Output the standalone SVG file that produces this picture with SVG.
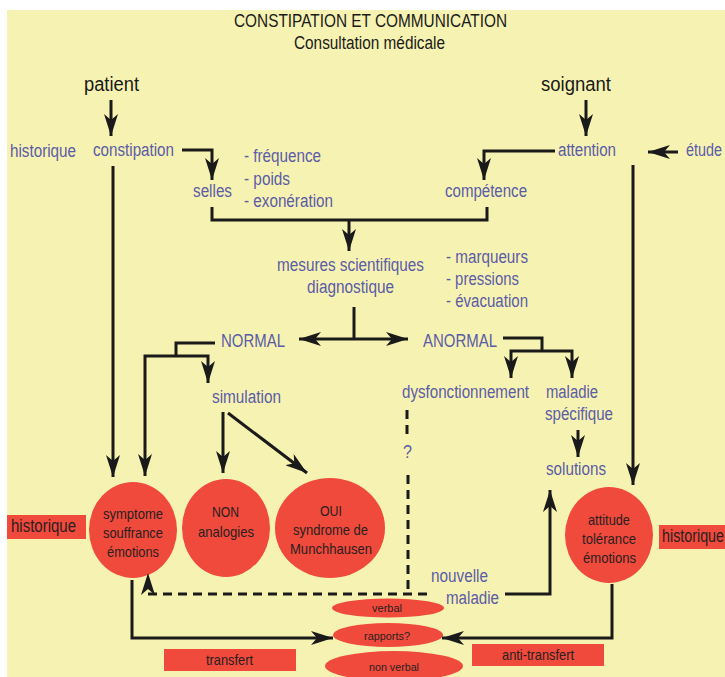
<svg xmlns="http://www.w3.org/2000/svg" width="725" height="677" viewBox="0 0 725 677">
<defs>
<style>
text{font-family:"Liberation Sans",Arial,sans-serif;}
.b{fill:#5b5ca8;font-size:18px;}
.k{fill:#1a1a1a;font-size:18px;}
.d{fill:#2a1f1f;font-size:15px;}
.s{fill:#2a1f1f;font-size:11.5px;}
.red{fill:#ef4a3c;}
.ln{fill:none;stroke:#1a1a1a;stroke-width:3;}
.ar{marker-end:url(#ah);}
.dash{fill:none;stroke:#1a1a1a;stroke-width:3;stroke-dasharray:9 6;}
</style>
<marker id="ah" markerUnits="userSpaceOnUse" markerWidth="22" markerHeight="14" refX="22" refY="7" orient="auto" viewBox="0 0 22 14"><path d="M0,0 L22,7 L0,14 L6,7 z" fill="#1a1a1a"/></marker>
</defs>
<rect x="0" y="0" width="725" height="677" fill="#ffffff"/>
<rect x="7" y="10" width="718" height="667" fill="#f6f2b1"/>

<g id="title">
<text class="k" x="234" y="27" textLength="273" lengthAdjust="spacingAndGlyphs">CONSTIPATION ET COMMUNICATION</text>
<text class="k" x="294" y="49" textLength="151" lengthAdjust="spacingAndGlyphs">Consultation médicale</text>
</g>
<g id="patient"><text class="k" x="84" y="91" style="font-size:20px" textLength="55" lengthAdjust="spacingAndGlyphs">patient</text></g>
<g id="soignant"><text class="k" x="541" y="91" style="font-size:20px" textLength="70" lengthAdjust="spacingAndGlyphs">soignant</text></g>

<g id="historique-top"><text class="b" x="10" y="157" textLength="66" lengthAdjust="spacingAndGlyphs">historique</text></g>
<g id="constipation"><text class="b" x="93" y="156" textLength="81" lengthAdjust="spacingAndGlyphs">constipation</text></g>
<g id="selles"><text class="b" x="193" y="197" textLength="39" lengthAdjust="spacingAndGlyphs">selles</text></g>
<g id="selles-liste">
<text class="b" x="244" y="162" textLength="77" lengthAdjust="spacingAndGlyphs">- fréquence</text>
<text class="b" x="244" y="185" textLength="46" lengthAdjust="spacingAndGlyphs">- poids</text>
<text class="b" x="244" y="207" textLength="89" lengthAdjust="spacingAndGlyphs">- exonération</text>
</g>
<g id="attention"><text class="b" x="558" y="156" textLength="58" lengthAdjust="spacingAndGlyphs">attention</text></g>
<g id="competence"><text class="b" x="445" y="197" textLength="82" lengthAdjust="spacingAndGlyphs">compétence</text></g>
<g id="etude"><text class="b" x="686" y="156" textLength="36" lengthAdjust="spacingAndGlyphs">étude</text></g>
<g id="mesures">
<text class="b" x="277" y="271" textLength="147" lengthAdjust="spacingAndGlyphs">mesures scientifiques</text>
<text class="b" x="307" y="293" textLength="87" lengthAdjust="spacingAndGlyphs">diagnostique</text>
</g>
<g id="mesures-liste">
<text class="b" x="446" y="263" textLength="82" lengthAdjust="spacingAndGlyphs">- marqueurs</text>
<text class="b" x="446" y="285" textLength="73" lengthAdjust="spacingAndGlyphs">- pressions</text>
<text class="b" x="446" y="307" textLength="82" lengthAdjust="spacingAndGlyphs">- évacuation</text>
</g>
<g id="normal"><text class="b" x="221" y="347" textLength="64" lengthAdjust="spacingAndGlyphs">NORMAL</text></g>
<g id="anormal"><text class="b" x="423" y="347" textLength="74" lengthAdjust="spacingAndGlyphs">ANORMAL</text></g>
<g id="simulation"><text class="b" x="212" y="403" textLength="69" lengthAdjust="spacingAndGlyphs">simulation</text></g>
<g id="dysfonctionnement"><text class="b" x="402" y="398" textLength="127" lengthAdjust="spacingAndGlyphs">dysfonctionnement</text></g>
<g id="maladie-specifique">
<text class="b" x="546" y="398" textLength="52" lengthAdjust="spacingAndGlyphs">maladie</text>
<text class="b" x="545" y="420" textLength="68" lengthAdjust="spacingAndGlyphs">spécifique</text>
</g>
<g id="question"><text class="b" x="403" y="458" textLength="9" lengthAdjust="spacingAndGlyphs">?</text></g>
<g id="solutions"><text class="b" x="546" y="475" textLength="60" lengthAdjust="spacingAndGlyphs">solutions</text></g>
<g id="nouvelle-maladie">
<text class="b" x="431" y="582" textLength="57" lengthAdjust="spacingAndGlyphs">nouvelle</text>
<text class="b" x="446" y="604" textLength="53" lengthAdjust="spacingAndGlyphs">maladie</text>
</g>

<g id="symptome">
<ellipse class="red" cx="133" cy="530" rx="44" ry="48"/>
<text class="d" x="103" y="519" textLength="60" lengthAdjust="spacingAndGlyphs">symptome</text>
<text class="d" x="103" y="538" textLength="60" lengthAdjust="spacingAndGlyphs">souffrance</text>
<text class="d" x="107" y="557" textLength="52" lengthAdjust="spacingAndGlyphs">émotions</text>
</g>
<g id="non">
<ellipse class="red" cx="226" cy="528" rx="44" ry="49"/>
<text class="d" x="212" y="517" textLength="27" lengthAdjust="spacingAndGlyphs">NON</text>
<text class="d" x="198" y="537" textLength="56" lengthAdjust="spacingAndGlyphs">analogies</text>
</g>
<g id="oui">
<ellipse class="red" cx="330" cy="528" rx="55" ry="50"/>
<text class="d" x="320" y="516" textLength="22" lengthAdjust="spacingAndGlyphs">OUI</text>
<text class="d" x="293" y="535" textLength="75" lengthAdjust="spacingAndGlyphs">syndrome de</text>
<text class="d" x="290" y="554" textLength="82" lengthAdjust="spacingAndGlyphs">Munchhausen</text>
</g>
<g id="attitude">
<ellipse class="red" cx="609" cy="535" rx="44" ry="48"/>
<text class="d" x="588" y="525" textLength="42" lengthAdjust="spacingAndGlyphs">attitude</text>
<text class="d" x="582" y="544" textLength="54" lengthAdjust="spacingAndGlyphs">tolérance</text>
<text class="d" x="583" y="563" textLength="53" lengthAdjust="spacingAndGlyphs">émotions</text>
</g>
<g id="historique-gauche">
<rect class="red" x="7" y="515" width="79" height="24"/>
<text class="d" x="11" y="532" style="font-size:18px" textLength="65" lengthAdjust="spacingAndGlyphs">historique</text>
</g>
<g id="historique-droite">
<rect class="red" x="659" y="525" width="66" height="24"/>
<text class="d" x="662" y="542" style="font-size:18px" textLength="62" lengthAdjust="spacingAndGlyphs">historique</text>
</g>
<g id="transfert">
<rect class="red" x="164" y="649" width="132" height="22"/>
<text class="d" x="206" y="665" textLength="47" lengthAdjust="spacingAndGlyphs">transfert</text>
</g>
<g id="anti-transfert">
<rect class="red" x="472" y="644" width="132" height="22"/>
<text class="d" x="502" y="660" textLength="72" lengthAdjust="spacingAndGlyphs">anti-transfert</text>
</g>
<g id="verbal">
<ellipse class="red" cx="388" cy="608" rx="56" ry="9.5"/>
<text class="s" x="372" y="612" textLength="30" lengthAdjust="spacingAndGlyphs">verbal</text>
</g>
<g id="rapports">
<ellipse class="red" cx="388" cy="635" rx="55" ry="12"/>
<text class="s" x="364" y="640" textLength="46" lengthAdjust="spacingAndGlyphs">rapports?</text>
</g>
<g id="non-verbal">
<ellipse class="red" cx="394" cy="666" rx="69" ry="15"/>
<text class="s" x="369" y="671" textLength="50" lengthAdjust="spacingAndGlyphs">non verbal</text>
</g>

<g id="connectors">
<path class="ln ar" d="M111,100 L111,136"/>
<path class="ln ar" d="M586,100 L586,136"/>
<path class="ln ar" d="M182,150 L212,150 L212,180"/>
<path class="ln ar" d="M555,151 L484,151 L484,180"/>
<path class="ln ar" d="M678,152 L648,152"/>
<path class="ln" d="M212,207 L212,220 L487,220 L487,207"/>
<path class="ln ar" d="M349,220 L349,251"/>
<path class="ln" d="M354,307 L354,339"/>
<path class="ln ar" d="M354,339 L299,339"/>
<path class="ln ar" d="M354,339 L408,339"/>
<path class="ln" d="M215,343 L176,343 L176,356"/>
<path class="ln ar" d="M176,356 L145,356 L145,476"/>
<path class="ln ar" d="M176,356 L208,356 L208,383"/>
<path class="ln ar" d="M113,166 L113,477"/>
<path class="ln ar" d="M223,412 L223,473"/>
<path class="ln ar" d="M228,413 L307,473"/>
<path class="ln" d="M503,338 L542,338 L542,351"/>
<path class="ln ar" d="M542,351 L511,351 L511,378"/>
<path class="ln ar" d="M542,351 L572,351 L572,378"/>
<path class="ln ar" d="M578,430 L578,457"/>
<path class="ln ar" d="M633,165 L633,485"/>
<path class="dash" d="M407,410 L407,440"/>
<path class="dash" d="M408,475 L408,594"/>
<path class="dash ar" d="M427,594 L148,594 L148,573"/>
<path class="ln ar" d="M132,580 L132,638 L333,638"/>
<path class="ln ar" d="M612,584 L612,638 L442,638"/>
<path class="ln ar" d="M505,594 L550,594 L550,490"/>
</g>
</svg>
